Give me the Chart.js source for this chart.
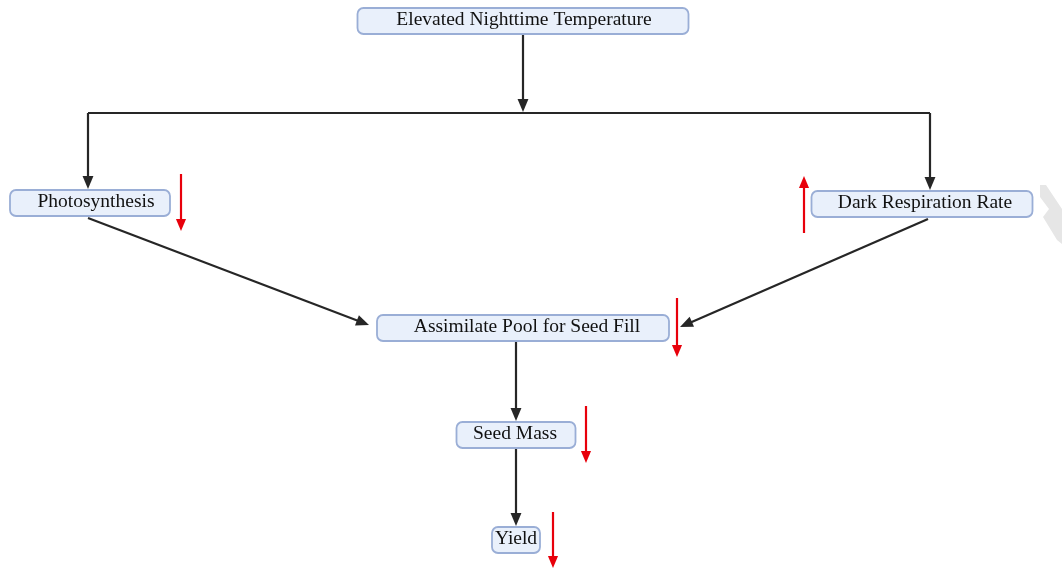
<!DOCTYPE html>
<html>
<head>
<meta charset="utf-8">
<script src="https://cdn.jsdelivr.net/npm/chart.js@4.4.1/dist/chart.umd.min.js"></script>
<style>
  html, body { margin: 0; padding: 0; background: #fff; }
  #wrap { width: 1062px; height: 569px; }
</style>
</head>
<body>
<div id="wrap"><canvas id="flow" width="1062" height="569"></canvas></div>
<script>
// ---- data ----
const nodes = ['Elevated Nighttime Temperature', 'Photosynthesis', 'Dark Respiration Rate',
               'Assimilate Pool for Seed Fill', 'Seed Mass', 'Yield'];
const edgeFrom = [0, 0, 1, 2, 3, 4];
const edgeTo   = [1, 2, 3, 3, 4, 5];
const effects  = ['none', 'down', 'up', 'down', 'down', 'down'];

// ---- layout (diagram units on a 1062 x 569 plane) ----
const layout = {
  cx: [523, 90, 922, 523, 516, 516],
  cy: [21, 203, 204, 328, 435, 540],
  tx: [524, 96, 925, 527, 515, 516],
  w:  [331, 160, 221, 292, 119, 48],
  h:  26,
  branchY: 113,
  effX:  [0, 181, 804, 677, 586, 553],
  effY0: [0, 174, 233, 298, 406, 512],
  effY1: [0, 231, 176, 357, 463, 568]
};

function arrowHead(ctx, x0, y0, x1, y1, size, color) {
  const a = Math.atan2(y1 - y0, x1 - x0);
  ctx.fillStyle = color;
  ctx.beginPath();
  ctx.moveTo(x1, y1);
  ctx.lineTo(x1 - size * Math.cos(a - 0.4), y1 - size * Math.sin(a - 0.4));
  ctx.lineTo(x1 - size * Math.cos(a + 0.4), y1 - size * Math.sin(a + 0.4));
  ctx.closePath();
  ctx.fill();
}

function line(ctx, pts, color, width, head) {
  const n = pts.length;
  ctx.strokeStyle = color;
  ctx.lineWidth = width;
  ctx.beginPath();
  ctx.moveTo(pts[0][0], pts[0][1]);
  for (let i = 1; i < n; i++) {
    let [x, y] = pts[i];
    if (head && i === n - 1) {
      // stop the shaft inside the head so the tip stays sharp
      const a = Math.atan2(y - pts[i - 1][1], x - pts[i - 1][0]);
      x -= Math.cos(a) * head * 0.6; y -= Math.sin(a) * head * 0.6;
    }
    ctx.lineTo(x, y);
  }
  ctx.stroke();
  if (head) arrowHead(ctx, pts[n - 2][0], pts[n - 2][1], pts[n - 1][0], pts[n - 1][1], head, color);
}

const flowPlugin = {
  id: 'flow',
  afterDatasetsDraw(chart) {
    const ctx = chart.ctx;
    const xs = chart.scales.x, ys = chart.scales.y;
    const X = v => xs.getPixelForValue(v);
    const Y = v => ys.getPixelForValue(v);
    const top = i => layout.cy[i] - layout.h / 2;
    const bot = i => layout.cy[i] + layout.h / 2;
    ctx.save();

    // ---- edges ----
    const dark = '#262626';
    line(ctx, [[X(layout.cx[0]), Y(bot(0))], [X(layout.cx[0]), Y(layout.branchY - 1)]], dark, 2.2, 14);
    line(ctx, [[X(layout.cx[1] - 2), Y(layout.branchY)], [X(layout.cx[2] + 8), Y(layout.branchY)]], dark, 2.2, 0);
    edgeFrom.forEach((f, k) => {
      const t = edgeTo[k];
      if (f === 0) {
        const x = t === 1 ? layout.cx[1] - 2 : layout.cx[2] + 8;
        line(ctx, [[X(x), Y(layout.branchY)], [X(x), Y(top(t) - 1)]], dark, 2.2, 14);
      } else if (t === 3 && (f === 1 || f === 2)) {
        const sx = f === 1 ? layout.cx[1] - 2 : layout.cx[2] + 6;
        const ex = f === 1 ? layout.cx[3] - layout.w[3] / 2 - 8 : layout.cx[3] + layout.w[3] / 2 + 11;
        const ey = f === 1 ? layout.cy[3] - 3 : layout.cy[3] - 1;
        line(ctx, [[X(sx), Y(bot(f) + 2)], [X(ex), Y(ey)]], dark, 2.2, 14);
      } else {
        line(ctx, [[X(layout.cx[t]), Y(bot(f) + 1)], [X(layout.cx[t]), Y(top(t) - 1)]], dark, 2.2, 14);
      }
    });

    // ---- effect arrows ----
    effects.forEach((e, i) => {
      if (e === 'none') return;
      line(ctx, [[X(layout.effX[i]), Y(layout.effY0[i])], [X(layout.effX[i]), Y(layout.effY1[i])]], '#e8000b', 2.2, 13);
    });

    // ---- boxes ----
    ctx.font = '19.5px "Liberation Serif", "DejaVu Serif", serif';
    ctx.textAlign = 'center';
    ctx.textBaseline = 'middle';
    nodes.forEach((name, i) => {
      const x0 = X(layout.cx[i] - layout.w[i] / 2), x1 = X(layout.cx[i] + layout.w[i] / 2);
      const y0 = Y(top(i)), y1 = Y(bot(i));
      ctx.beginPath();
      ctx.roundRect(x0, y0, x1 - x0, y1 - y0, 6);
      ctx.fillStyle = '#e9f0fb';
      ctx.fill();
      ctx.strokeStyle = '#9aaed6';
      ctx.lineWidth = 1.8;
      ctx.stroke();
      ctx.fillStyle = '#111';
      ctx.fillText(name, X(layout.tx[i]), (y0 + y1) / 2 - 1);
    });

    // ---- page-fold mark at the right edge ----
    ctx.fillStyle = '#e6e6e6';
    ctx.beginPath();
    [[1040, 185], [1046, 185], [1062, 209], [1062, 244], [1057, 240], [1043, 217], [1049, 209], [1040, 197]]
      .forEach((p, k) => k ? ctx.lineTo(X(p[0]), Y(p[1])) : ctx.moveTo(X(p[0]), Y(p[1])));
    ctx.closePath();
    ctx.fill();
    ctx.restore();
  }
};

new Chart(document.getElementById('flow'), {
  type: 'scatter',
  data: {
    datasets: [{
      label: 'nodes',
      data: nodes.map((n, i) => ({ x: layout.cx[i], y: layout.cy[i] })),
      pointRadius: 0
    }]
  },
  options: {
    responsive: false,
    animation: false,
    layout: { padding: 0 },
    scales: {
      x: { type: 'linear', min: 0, max: 1062, display: false },
      y: { type: 'linear', min: 0, max: 569, reverse: true, display: false }
    },
    plugins: { legend: { display: false }, tooltip: { enabled: false } }
  },
  plugins: [flowPlugin]
});
</script>
</body>
</html>
